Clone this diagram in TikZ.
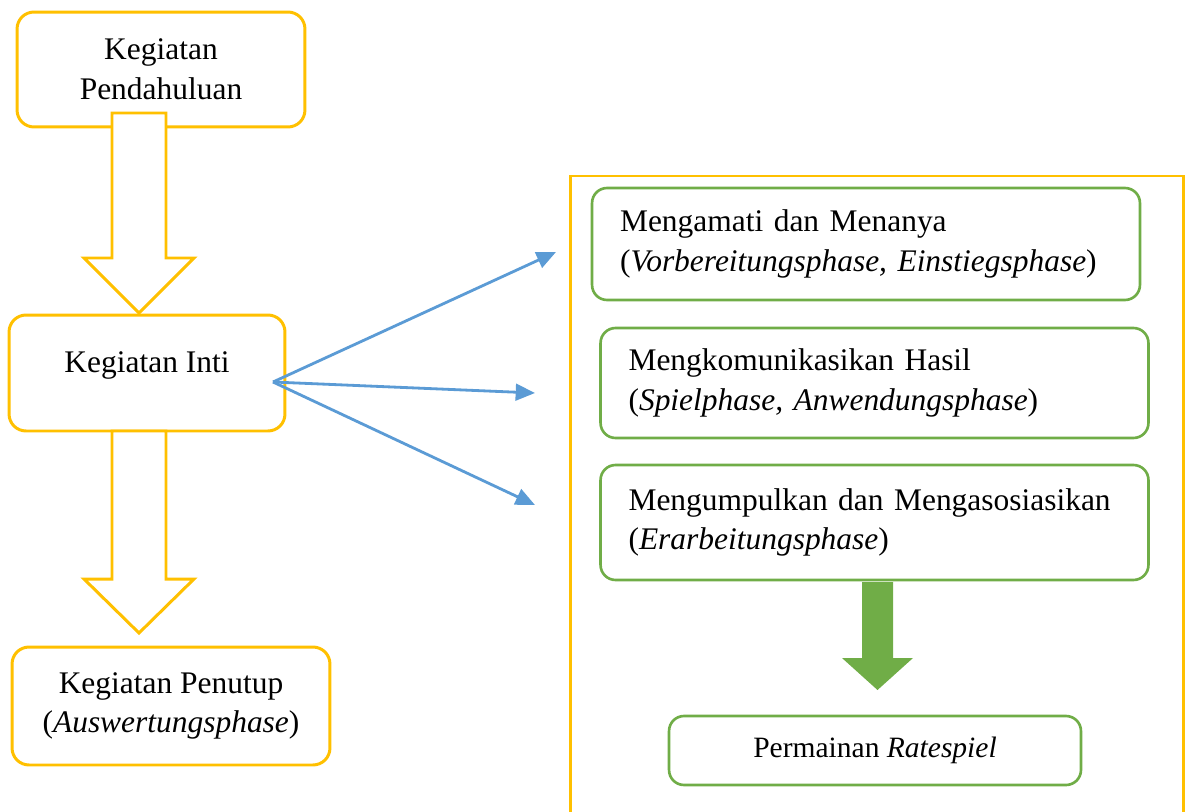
\documentclass[tikz,border=0pt]{standalone}
\usepackage{fontspec}
\setmainfont{Liberation Serif}
\usetikzlibrary{arrows.meta}
\definecolor{boxyellow}{RGB}{255,192,0}
\definecolor{boxgreen}{RGB}{112,173,71}
\definecolor{linkblue}{RGB}{91,155,213}

\begin{document}
\begin{tikzpicture}[
  x=0.02cm, y=-0.02cm,
  every node/.style={font=\fontsize{17.9}{22.6}\selectfont, rounded corners=0.34cm, line width=1.7pt, align=center, fill=white, inner sep=0pt},
  yellowbox/.style={draw=boxyellow},
  greenbox/.style={draw=boxgreen, line width=1.5pt, rounded corners=0.3cm, text width=9.84cm, inner xsep=0.56cm, align=left},
  hollowarrow/.style={draw=boxyellow, fill=white, line width=1.7pt, line join=miter},
  greenarrow/.style={fill=boxgreen},
  link/.style={-{Triangle[length=11pt, width=9.5pt]}, line width=1.6pt, linkblue}
]
  \useasboundingbox (0,0) rectangle (1189,811);
  \draw[boxyellow, line width=1.7pt] (570,820) |- (1183,176) -- (1183,820);

  \node[yellowbox, minimum width=5.76cm, minimum height=2.3cm]  (pend)  at (161,69.5) {Kegiatan\\Pendahuluan};
  \node[yellowbox, minimum width=5.52cm, minimum height=2.32cm, text depth=0.45cm] (inti) at (147,373) {Kegiatan Inti};
  \node[yellowbox, minimum width=6.36cm, minimum height=2.36cm] (tutup) at (171,706) {Kegiatan Penutup\\(\textit{Auswertungsphase})};

  \node[greenbox, minimum height=2.24cm] (amati)  at (866,244)   {Mengamati dan Menanya\\(\textit{Vorbereitungsphase, Einstiegsphase})};
  \node[greenbox, minimum height=2.2cm]  (komun)  at (874.5,383) {Mengkomunikasikan Hasil\\(\textit{Spielphase, Anwendungsphase})};
  \node[greenbox, minimum height=2.3cm]  (kumpul) at (874.5,522.5) {Mengumpulkan dan Mengasosiasikan\\(\textit{Erarbeitungsphase})};
  \node[draw=boxgreen, line width=1.5pt, rounded corners=0.3cm, minimum width=8.24cm, minimum height=1.38cm, font=\fontsize{16.8}{20}\selectfont] (rate) at (875,750.5) {Permainan \textit{Ratespiel}};

  \draw[hollowarrow] (112,113) -- (166,113) -- (166,258) -- (194,258) -- (139,313) -- (84,258) -- (112,258) -- cycle;
  \draw[hollowarrow] (112,431) -- (166,431) -- (166,579) -- (194,579) -- (139,633) -- (84,579) -- (112,579) -- cycle;
  \fill[greenarrow] (862,582) -- (893,582) -- (893,658) -- (913,658) -- (877.5,690) -- (842,658) -- (862,658) -- cycle;

  \coordinate (src) at (273,382);
  \coordinate (to1) at (556,252);
  \coordinate (to2) at (535,393);
  \coordinate (to3) at (535,505);
  \draw[link] (src) -- (to1);
  \draw[link] (src) -- (to2);
  \draw[link] (src) -- (to3);
\end{tikzpicture}
\end{document}
